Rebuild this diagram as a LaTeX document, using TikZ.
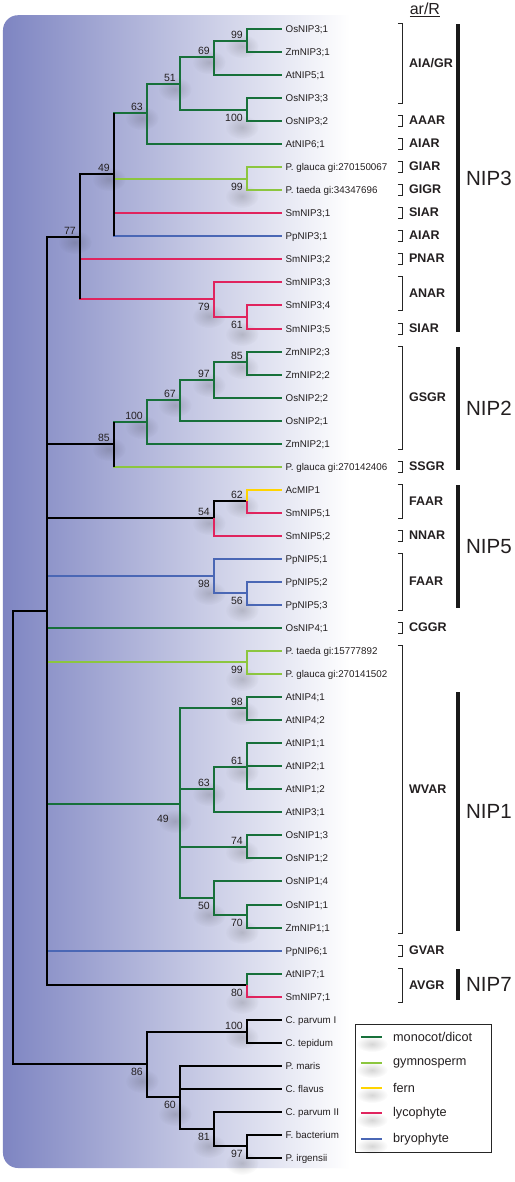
\documentclass[tikz,border=0pt]{standalone}
\usepackage{fontspec}
\setmainfont{Liberation Sans}
\usetikzlibrary{fadings}
\definecolor{mono}{HTML}{17703A}
\definecolor{gymno}{HTML}{8CC63F}
\definecolor{fern}{HTML}{FFD400}
\definecolor{lyco}{HTML}{E0245E}
\definecolor{bryo}{HTML}{4A67B5}
\definecolor{bgblue}{HTML}{7E85C2}
\definecolor{txt}{HTML}{231F20}
\tikzfading[name=fuzzy, inner color=transparent!84, outer color=transparent!100]
\tikzset{
  br/.style={line width=2pt},
  brk/.style={line width=0.9pt, black!85},
  bar/.style={line width=4pt, black!90},
  blur/.style={fill=black, path fading=fuzzy},
  leaf/.style={anchor=west, inner xsep=3.5pt, inner ysep=0pt, text height=7pt, text depth=0pt, text=txt, font=\fontsize{9.8}{11}\selectfont},
  bs/.style={inner sep=0pt, text=txt, font=\fontsize{10.5}{12}\selectfont},
  bsa/.style={bs, anchor=south east, xshift=-4pt, yshift=2.5pt},
  bsb/.style={bs, anchor=north east, xshift=-4pt, yshift=-3.5pt},
  arlab/.style={anchor=west, inner sep=0pt, text=txt, font=\bfseries\fontsize{12.5}{14}\selectfont},
  niplab/.style={anchor=west, inner sep=0pt, text=txt, font=\fontsize{20.5}{22}\selectfont},
  legtext/.style={anchor=west, inner sep=0pt, text=txt, font=\fontsize{12.7}{14}\selectfont}
}

\begin{document}
\begin{tikzpicture}[x=1pt, y=-1pt]

  \newcommand\Y{23.04}

  % background
  \fill[white] (0,0) rectangle (515,1182);
  \begin{scope}
    \clip[rounded corners=15pt] (3,15) rectangle (400,1168);
    \shade[left color=bgblue, right color=white] (3,15) rectangle (350,1168);
  \end{scope}

  % leaves
  \foreach \t [count=\i] in {OsNIP3;1, ZmNIP3;1, AtNIP5;1, OsNIP3;3, OsNIP3;2, AtNIP6;1,
      P. glauca gi:270150067, P. taeda gi:34347696, SmNIP3;1, PpNIP3;1, SmNIP3;2,
      SmNIP3;3, SmNIP3;4, SmNIP3;5, ZmNIP2;3, ZmNIP2;2, OsNIP2;2, OsNIP2;1, ZmNIP2;1,
      P. glauca gi:270142406, AcMIP1, SmNIP5;1, SmNIP5;2, PpNIP5;1, PpNIP5;2, PpNIP5;3,
      OsNIP4;1, P. taeda gi:15777892, P. glauca gi:270141502, AtNIP4;1, AtNIP4;2,
      AtNIP1;1, AtNIP2;1, AtNIP1;2, AtNIP3;1, OsNIP1;3, OsNIP1;2, OsNIP1;4, OsNIP1;1,
      ZmNIP1;1, PpNIP6;1, AtNIP7;1, SmNIP7;1, C. parvum I, C. tepidum, P. maris,
      C. flavus, C. parvum II, F. bacterium, P. irgensii}
    \node[leaf] (l\i) at (282,{29+round((\i-1)*\Y)}) {\t};

  % inner nodes
  \coordinate (root) at (13,837);
  \coordinate (nP)   at (47,611);
  \coordinate (n77)  at (80,237);
  \coordinate (n49a) at (114,174);
  \coordinate (n63)  at (147,113);
  \coordinate (n51)  at (180,84);
  \coordinate (n69)  at (214,57);
  \coordinate (n99a) at (247,41);
  \coordinate (n100a) at (247,110);
  \coordinate (n99b) at (247,179);
  \coordinate (n79)  at (214,299);
  \coordinate (n61a) at (247,317);
  \coordinate (n85)  at (114,444);
  \coordinate (n100b) at (147,422);
  \coordinate (n67)  at (180,400);
  \coordinate (n97a) at (214,380);
  \coordinate (n85b) at (247,362);
  \coordinate (n54)  at (214,518);
  \coordinate (n62)  at (247,501);
  \coordinate (n98)  at (214,576);
  \coordinate (n56)  at (247,593);
  \coordinate (n99g) at (247,662);
  \coordinate (n49b) at (180,804);
  \coordinate (n98b) at (247,708);
  \coordinate (n63b) at (214,789);
  \coordinate (n61b) at (247,767);
  \coordinate (n74)  at (247,847);
  \coordinate (n50)  at (214,898);
  \coordinate (n70)  at (247,915);
  \coordinate (n80)  at (247,985);
  \coordinate (n86)  at (147,1064);
  \coordinate (n100c) at (247,1032);
  \coordinate (n60)  at (180,1097);
  \coordinate (n81)  at (214,1129);
  \coordinate (n97b) at (247,1146);

  % soft shadows under the support values
  \foreach \n in {n99a, n69, n51, n63, n49a, n77, n85b, n97a, n67, n100b, n85, n62, n54,
      n98b, n61b, n63b, n74, n100c}
    \fill[blur] ([xshift=-5pt, yshift=-5pt]\n) ellipse (17pt and 12pt);
  \foreach \n in {n100a, n99b, n79, n61a, n98, n56, n99g, n50, n70, n80, n86, n60, n81, n97b, n49b}
    \fill[blur] ([xshift=-5pt, yshift=-17pt]\n) ellipse (17pt and 12pt);

  % branches
  \foreach \a/\b/\c in {root/nP/black, root/n86/black,
      nP/n77/black, nP/n85/black, nP/n54/black, nP/n98/bryo, nP/l27/mono, nP/n99g/gymno,
      nP/n49b/mono, nP/l41/bryo, nP/n80/black,
      n77/n49a/black, n77/l11/lyco, n77/n79/lyco,
      n49a/n63/mono, n49a/n99b/gymno, n49a/l9/lyco, n49a/l10/bryo,
      n63/n51/mono, n63/l6/mono, n51/n69/mono, n51/n100a/mono, n69/n99a/mono, n69/l3/mono,
      n99a/l1/mono, n99a/l2/mono, n100a/l4/mono, n100a/l5/mono,
      n99b/l7/gymno, n99b/l8/gymno,
      n79/l12/lyco, n79/n61a/lyco, n61a/l13/lyco, n61a/l14/lyco,
      n85/n100b/mono, n85/l20/gymno, n100b/n67/mono, n100b/l19/mono, n67/n97a/mono,
      n67/l18/mono, n97a/n85b/mono, n97a/l17/mono, n85b/l15/mono, n85b/l16/mono,
      n54/n62/black, n54/l23/lyco, n62/l21/fern, n62/l22/lyco,
      n98/l24/bryo, n98/n56/bryo, n56/l25/bryo, n56/l26/bryo,
      n99g/l28/gymno, n99g/l29/gymno,
      n49b/n98b/mono, n49b/n63b/mono, n49b/n74/mono, n49b/n50/mono, n98b/l30/mono,
      n98b/l31/mono, n63b/n61b/mono, n63b/l35/mono, n61b/l32/mono, n61b/l33/mono,
      n61b/l34/mono, n74/l36/mono, n74/l37/mono, n50/l38/mono, n50/n70/mono,
      n70/l39/mono, n70/l40/mono,
      n80/l42/mono, n80/l43/lyco,
      n86/n100c/black, n86/n60/black, n100c/l44/black, n100c/l45/black, n60/l46/black,
      n60/l47/black, n60/n81/black, n81/l48/black, n81/n97b/black, n97b/l49/black,
      n97b/l50/black}
    \draw[br, \c] (\a) |- (\b);

  % black stems over mixed clades
  \draw[br] (nP |- n77) -- (nP |- n80);
  \draw[br] (n77 |- n49a) -- (n77 |- n79);
  \draw[br] (n49a |- n63) -- (n49a |- l10);
  \draw[br] (n85 |- n100b) -- (n85 |- l20);

  % bootstrap values
  \foreach \n/\v in {n99a/99, n69/69, n51/51, n63/63, n49a/49, n77/77, n85b/85, n97a/97,
      n67/67, n100b/100, n85/85, n62/62, n54/54, n98b/98, n61b/61, n63b/63, n74/74,
      n100c/100}
    \node[bsa] (b\n) at (\n) {\v};
  \foreach \n/\v in {n100a/100, n99b/99, n79/79, n61a/61, n98/98, n56/56, n99g/99,
      n50/50, n70/70, n80/80, n86/86, n60/60, n81/81, n97b/97}
    \node[bsb] (b\n) at (\n) {\v};
  \node[bsb, xshift=-7pt, yshift=-7pt] (bn49b) at (n49b) {49};

  % ar/R brackets
  \node[text=txt, font=\fontsize{16}{18}\selectfont] (arR) at (425,10) {\underline{ar/R}};
  \foreach \p/\q/\t [count=\i] in {1/4/{AIA/GR}, 5/5/AAAR, 6/6/AIAR, 7/7/GIAR, 8/8/GIGR,
      9/9/SIAR, 10/10/AIAR, 11/11/PNAR, 12/13/ANAR, 14/14/SIAR, 15/19/GSGR, 20/20/SSGR,
      21/22/FAAR, 23/23/NNAR, 24/26/FAAR, 27/27/CGGR, 28/40/WVAR, 41/41/GVAR, 42/43/AVGR}{
    \pgfmathsetmacro\ya{29+round((\p-1)*\Y)-6}
    \pgfmathsetmacro\yb{29+round((\q-1)*\Y)+5}
    \draw[brk] (398,\ya) -- (403,\ya) -- (403,\yb) -- (398,\yb);
    \node[arlab] (ar\i) at (409,{(\ya+\yb)/2}) {\t};
  }

  % subfamilies
  \foreach \p/\q/\t in {1/14/NIP3, 15/20/NIP2, 21/26/NIP5, 30/40/NIP1, 42/43/NIP7}{
    \pgfmathsetmacro\ya{29+round((\p-1)*\Y)-5}
    \pgfmathsetmacro\yb{29+round((\q-1)*\Y)+3}
    \draw[bar] (458,\ya) -- (458,\yb);
    \node[niplab] (\t) at (466,{(\ya+\yb)/2}) {\t};
  }

  % legend
  \draw[line width=0.8pt, black!85, fill=white] (355,1024) rectangle (491,1152);
  \foreach \c/\t/\y [count=\i] in {mono/{monocot/dicot}/1037, gymno/gymnosperm/1063,
      fern/fern/1088, lyco/lycophyte/1113, bryo/bryophyte/1139}{
    \coordinate (k\i) at (361,\y);
    \fill[blur] ([xshift=11pt, yshift=-7pt]k\i) ellipse (16pt and 8pt);
    \draw[br, \c] (k\i) -- ++(21,0);
    \node[legtext] (t\i) at (393,\y) {\t};
  }
\end{tikzpicture}
\end{document}
